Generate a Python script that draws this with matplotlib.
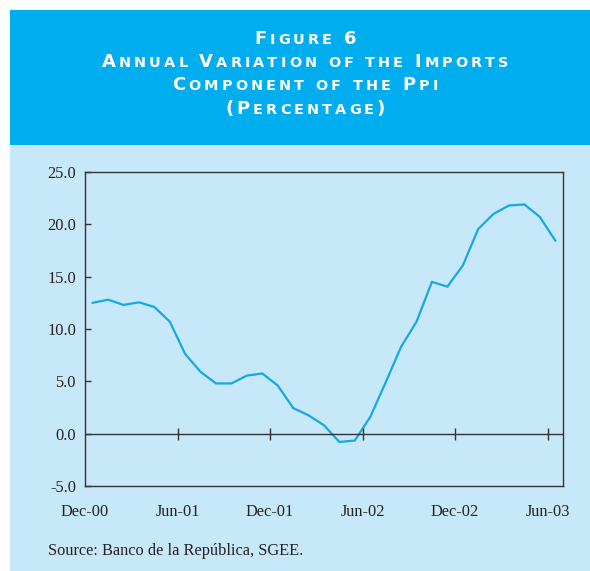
import matplotlib
matplotlib.use("Agg")
import matplotlib.pyplot as plt
from matplotlib.patches import Rectangle
import numpy as np

# DATA
months = ["Dec-00", "Jan-01", "Feb-01", "Mar-01", "Apr-01", "May-01", "Jun-01",
          "Jul-01", "Aug-01", "Sep-01", "Oct-01", "Nov-01", "Dec-01",
          "Jan-02", "Feb-02", "Mar-02", "Apr-02", "May-02", "Jun-02",
          "Jul-02", "Aug-02", "Sep-02", "Oct-02", "Nov-02", "Dec-02",
          "Jan-03", "Feb-03", "Mar-03", "Apr-03", "May-03", "Jun-03"]
variation = [12.5, 12.8, 12.3, 12.55, 12.1, 10.7, 7.6, 5.9, 4.8, 4.8, 5.55,
             5.75, 4.6, 2.45, 1.75, 0.8, -0.8, -0.65, 1.6, 4.9, 8.3,
             10.7, 14.5, 14.05, 16.05, 19.55, 21.0, 21.8, 21.9, 20.7, 18.45]
tick_labels = ["Dec-00", "Jun-01", "Dec-01", "Jun-02", "Dec-02", "Jun-03"]
yticks = [-5.0, 0.0, 5.0, 10.0, 15.0, 20.0, 25.0]
title_lines = ["Figure 6", "Annual Variation of the Imports",
               "Component of the Ppi", "(Percentage)"]
source = "Source: Banco de la República, SGEE."

HEADER = "#00aeef"
PANEL = "#c7e8f9"
LINE = "#14a9e6"
DARK = "#333333"

W, H = 590, 571
fig = plt.figure(figsize=(W / 100, H / 100), dpi=100)
fig.patch.set_facecolor("white")

# background boxes
fig.patches.append(Rectangle((10 / W, 0), 1, 1 - 145 / H, transform=fig.transFigure,
                             facecolor=PANEL, edgecolor="none", zorder=-5))
fig.patches.append(Rectangle((10 / W, 1 - 145 / H), 1, (145 - 10) / H,
                             transform=fig.transFigure,
                             facecolor=HEADER, edgecolor="none", zorder=-5))

ax = fig.add_axes([85 / W, 1 - 486 / H, (563 - 85) / W, (486 - 172) / H])
ax.set_facecolor(PANEL)

x = np.arange(len(variation)) + 0.5
ax.plot(x, variation, color=LINE, lw=1.6, solid_joinstyle="miter")
ax.axhline(0, color=DARK, lw=1)

tick_pos = [months.index(t) for t in tick_labels]
ax.plot(tick_pos[1:], [0] * (len(tick_pos) - 1), linestyle="none", marker="|",
        markersize=8, color=DARK, markeredgewidth=1)

ax.set_xlim(0, len(variation))
ax.set_ylim(-5, 25)
ax.set_yticks(yticks)
ax.set_yticklabels([f"{v:.1f}" for v in yticks])
ax.set_xticks(tick_pos)
ax.set_xticklabels(tick_labels)
ax.tick_params(axis="x", length=0, pad=13)
ax.tick_params(axis="y", direction="in", length=4, width=1, color=DARK, pad=6.5)
for lab in ax.get_xticklabels() + ax.get_yticklabels():
    lab.set_fontfamily("Liberation Serif")
    lab.set_fontsize(11.8)
    lab.set_color("#222222")
for sp in ax.spines.values():
    sp.set_color(DARK)
    sp.set_linewidth(1)

fig.text(48 / W, 1 - 551 / H, source, family="Liberation Serif", fontsize=11.8,
         color="#222222", va="center", ha="left")

# small caps title, built char by char
renderer = fig.canvas.get_renderer()
big, small, track = 13, 10.4, 3.1
baselines = [43.5, 67, 90.3, 113.6]
for line, base in zip(title_lines, baselines):
    pieces = []
    for ch in line:
        if ch == " ":
            pieces.append((None, big * 0.3 * 100 / 72))
            continue
        size = big if (ch.isupper() or ch.isdigit() or ch in "()") else small
        t = fig.text(0, 0, ch.upper(), fontsize=size, fontweight="bold",
                     family="DejaVu Sans", color="white", va="baseline")
        w = t.get_window_extent(renderer).width
        pieces.append((t, w))
    total = sum(w for _, w in pieces) + track * (len(pieces) - 1)
    xpos = 305 - total / 2
    for t, w in pieces:
        if t is not None:
            t.set_position((xpos / W, 1 - base / H))
        xpos += w + track

fig.savefig("out.png", dpi=100)
